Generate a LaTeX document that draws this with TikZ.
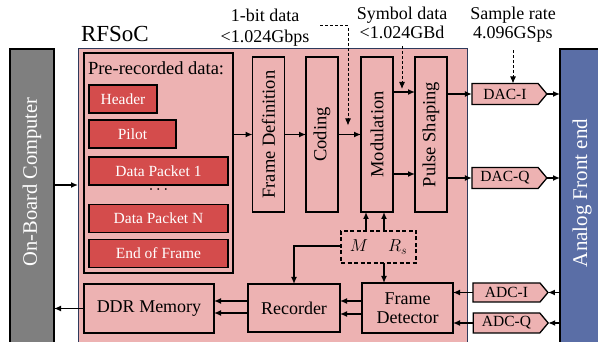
\documentclass[tikz,border=0pt]{standalone}
\usepackage{fontspec}
\setmainfont{Liberation Serif}
\usetikzlibrary{arrows.meta,shapes.symbols}

\definecolor{socpink}{HTML}{EDB2B2}
\definecolor{pktred}{HTML}{D44C4C}
\definecolor{obcgray}{HTML}{7F7F7F}
\definecolor{afeblue}{HTML}{5A6EA6}
\definecolor{socedge}{HTML}{2E3A5C}

\newcommand{\fs}[1]{\fontsize{#1}{#1}\selectfont}

\begin{document}
\begin{tikzpicture}[x=1pt,y=-1pt,
  every node/.style={inner sep=0pt, outer sep=0pt},
  blk/.style={draw=black, line width=1.3pt, fill=socpink, align=center,
              font=\fs{18}},
  pkt/.style={draw=black, line width=1.3pt, fill=pktred, text=white,
              font=\fs{15.5}},
  stage/.style={draw=black, line width=1.3pt, fill=socpink, font=\fs{18.5},
                minimum width=32pt, minimum height=155pt},
  conv/.style={signal, signal to=east, signal pointer angle=100,
               draw=black, line width=1.3pt, fill=socpink, font=\fs{15.5},
               minimum width=75pt, minimum height=21pt},
  link/.style={line width=1.3pt, -{Latex[length=7pt,width=6pt]}},
  note/.style={line width=1pt, dash pattern=on 3pt off 2pt,
               -{Latex[length=7pt,width=6pt]}},
]
\useasboundingbox (0,0) rectangle (598,342);
\clip (0,0) rectangle (598,342);

% outer blocks
\node[draw=black, line width=1.3pt, fill=obcgray,
      minimum width=44pt, minimum height=305pt] (obc) at (32,201.5) {};
\node[text=white, font=\fs{20.5}] (obclabel) at (32,182)
      {\rotatebox{90}{On-Board Computer}};
\node[draw=black, line width=1.3pt, fill=afeblue,
      minimum width=50pt, minimum height=305pt] (afe) at (585,201.5) {};
\node[text=white, font=\fs{21}] (afelabel) at (582,193)
      {\rotatebox{90}{Analog Front end}};

% RFSoC container
\node[draw=socedge, line width=1pt, fill=socpink,
      minimum width=389pt, minimum height=305pt] (soc) at (272.5,201.5) {};
\node[anchor=base west, font=\fs{23}] (soclabel) at (81,42) {RFSoC};

% pre-recorded data
\node[draw=black, line width=1.3pt, fill=socpink,
      minimum width=149pt, minimum height=220pt] (pre) at (158.5,163) {};
\node[anchor=base west, font=\fs{18.5}] (prelabel) at (88,75) {Pre-recorded data:};
\node[pkt, minimum width=68pt, minimum height=28pt] (hdr) at (123,99) {Header};
\node[pkt, minimum width=87pt, minimum height=28pt] (pil) at (132.5,134) {Pilot};
\node[pkt, minimum width=139pt, minimum height=28pt] (dp1) at (158.5,171) {Data Packet 1};
\node[font=\fs{15}] (dots) at (158.5,192) {·\,·\,·};
\node[pkt, minimum width=139pt, minimum height=28pt] (dpn) at (158.5,218.5) {Data Packet N};
\node[pkt, minimum width=139pt, minimum height=28pt] (eof) at (158.5,253.5) {End of Frame};

% transmit chain
\node[stage] (fdef) at (268.5,134.5) {\rotatebox{90}{Frame Definition}};
\node[stage] (cod)  at (322,134.5)   {\rotatebox{90}{Coding}};
\node[stage] (mod)  at (377,134.5)   {\rotatebox{90}{Modulation}};
\node[stage] (pul)  at (431,134.5)   {\rotatebox{90}{Pulse Shaping}};

\node[conv] (daci) at (505,94)  {DAC-I\hspace{6pt}};
\node[conv] (dacq) at (505,178) {DAC-Q\hspace{6pt}};
\node[conv, minimum height=19pt] (adci) at (506.5,292.5) {ADC-I\hspace{6pt}};
\node[conv, minimum height=20pt] (adcq) at (506.5,323)   {ADC-Q\hspace{6pt}};

% parameter box
\node[draw=black, line width=1.3pt, dash pattern=on 4pt off 2.5pt,
      minimum width=75pt, minimum height=32pt, font=\fs{18}] (par) at (378.5,247)
      {$M$\hspace{20pt}$R_s$};

% receive chain
\node[blk, minimum width=91pt, minimum height=50pt] (fdet) at (407.5,308)
      {Frame\\[1pt]Detector};
\node[blk, minimum width=92pt, minimum height=48pt] (rec) at (294,308) {Recorder};
\node[blk, minimum width=130pt, minimum height=49pt] (ddr) at (149,308.5) {DDR Memory};

% rate annotations
\node[align=center, font=\fs{18}] (bitrate) at (265,28)
      {1-bit data\\[3pt]<1.024Gbps};
\node[align=center, font=\fs{18}] (symrate) at (402,22.5)
      {Symbol data\\[1pt]<1.024GBd};
\node[align=center, font=\fs{18}] (smprate) at (513,24.5)
      {Sample rate\\[1pt]4.096GSps};

\coordinate (inlink) at (0,185);
\coordinate (bitbend) at (348,26);

% data path
\draw[link] (obc.east |- inlink) -- (soc.west |- inlink);
\draw[link] (pre.east |- fdef.west) -- (fdef.west);
\draw[link] (fdef.east) -- (cod.west);
\draw[link] (cod.east) -- (mod.west);
\draw[link] ([yshift=42.5pt]mod.east) -- ([yshift=42.5pt]pul.west);
\draw[link] ([yshift=-39.5pt]mod.east) -- ([yshift=-39.5pt]pul.west);
\draw[link] (pul.east |- daci.west) -- (daci.west);
\draw[link] (pul.east |- dacq.west) -- (dacq.west);
\draw[link] (daci.east) -- (afe.west |- daci.east);
\draw[link] (dacq.east) -- (afe.west |- dacq.east);
\draw[link] (afe.west |- adci.east) -- (adci.east);
\draw[link] (afe.west |- adcq.east) -- (adcq.east);
\draw[link] (adci.west) -- (fdet.east |- adci.west);
\draw[link] (adcq.west) -- (fdet.east |- adcq.west);
\draw[link] ([yshift=7pt]fdet.west) -- ([yshift=7pt]fdet.west -| rec.east);
\draw[link] ([yshift=-6pt]fdet.west) -- ([yshift=-6pt]fdet.west -| rec.east);
\draw[link] ([yshift=7pt]rec.west) -- ([yshift=7pt]rec.west -| ddr.east);
\draw[link] ([yshift=-5pt]rec.west) -- ([yshift=-5pt]rec.west -| ddr.east);
\draw[link] (ddr.west) -- (obc.east |- ddr.west);

% parameter feeds
\draw[link] ([xshift=-11pt]mod.south |- par.north) -- ([xshift=-11pt]mod.south);
\draw[link] ([xshift=7pt]mod.south |- par.north) -- ([xshift=7pt]mod.south);
\draw[link] ([yshift=1pt]par.west) -| (rec.north);
\draw[link] ([xshift=5.5pt]par.south) -- ([xshift=5.5pt]par.south |- fdet.north);

% rate markers
\draw[note] (320,26) -- (bitbend) -- ([yshift=9pt]bitbend |- cod.east);
\draw[note] ([yshift=-8pt]symrate.south) -- (402,89);
\draw[note] ([yshift=-8pt]smprate.south) -- (daci.north -| smprate.south);
\end{tikzpicture}
\end{document}
